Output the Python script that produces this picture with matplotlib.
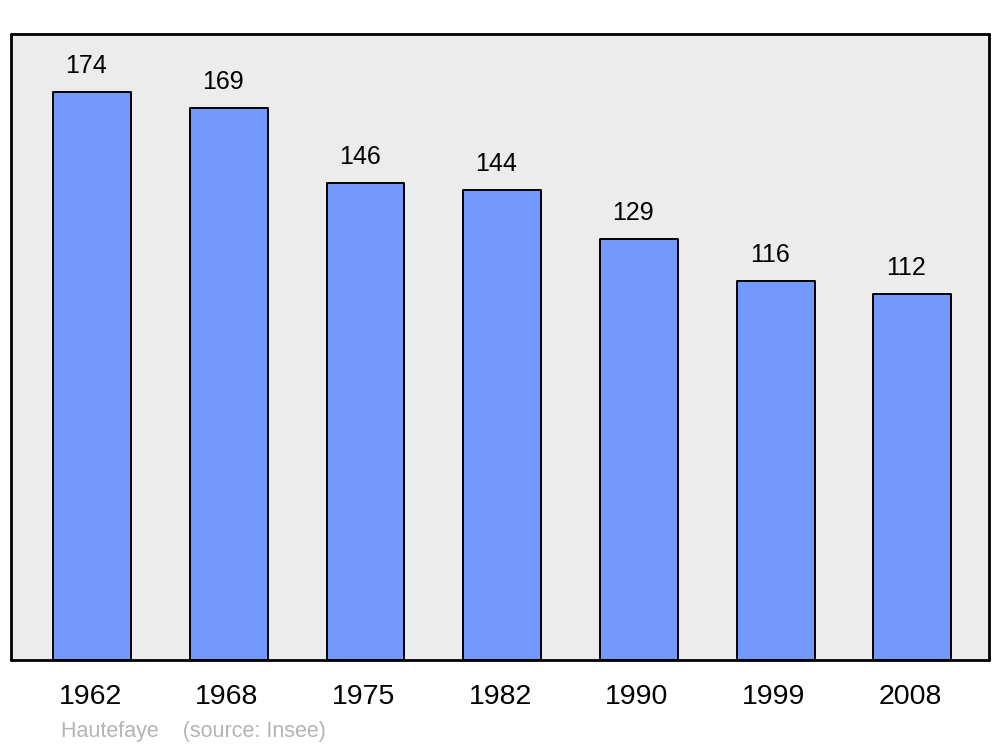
import matplotlib
matplotlib.use("Agg")
import matplotlib.pyplot as plt
from matplotlib.transforms import offset_copy, ScaledTranslation

years = ["1962", "1968", "1975", "1982", "1990", "1999", "2008"]
population = [174, 169, 146, 144, 129, 116, 112]

plt.rcParams["font.family"] = ["Liberation Sans", "DejaVu Sans"]

fig = plt.figure(figsize=(10, 7.47), dpi=100)
ax = fig.add_axes([0.011, 0.1165, 0.978, 0.838])
ax.set_facecolor("#ececec")

x = list(range(len(years)))
bars = ax.bar(x, population, width=0.57, color="#7399ff", edgecolor="black",
              linewidth=1.4, zorder=2)
for b in bars:
    b.set_joinstyle("round")

ax.set_xlim(-0.593, 6.56)
ax.set_ylim(0, 191.8)

# value labels above bars
lab_tr = offset_copy(ax.transData, fig=fig, x=-6, y=14, units="dots")
for xi, v in zip(x, population):
    ax.text(xi, v, str(v), transform=lab_tr, ha="center", va="bottom",
            fontsize=18)

ax.set_xticks(x)
ax.set_xticklabels(years, fontsize=20.5)
ax.tick_params(axis="x", length=0, pad=17)
ax.set_yticks([])
# nudge year labels a touch to the left, as in the original
shift = ScaledTranslation(-2 / 100, 0, fig.dpi_scale_trans)
for lbl in ax.get_xticklabels():
    lbl.set_transform(lbl.get_transform() + shift)

for s in ax.spines.values():
    s.set_linewidth(2)
    s.set_joinstyle("round")
    s.set_capstyle("round")

fig.text(0.061, 0.021, "Hautefaye    (source: Insee)", color="#b4b4b4",
         fontsize=15.5, ha="left", va="center")

fig.savefig("out.png", dpi=100)
